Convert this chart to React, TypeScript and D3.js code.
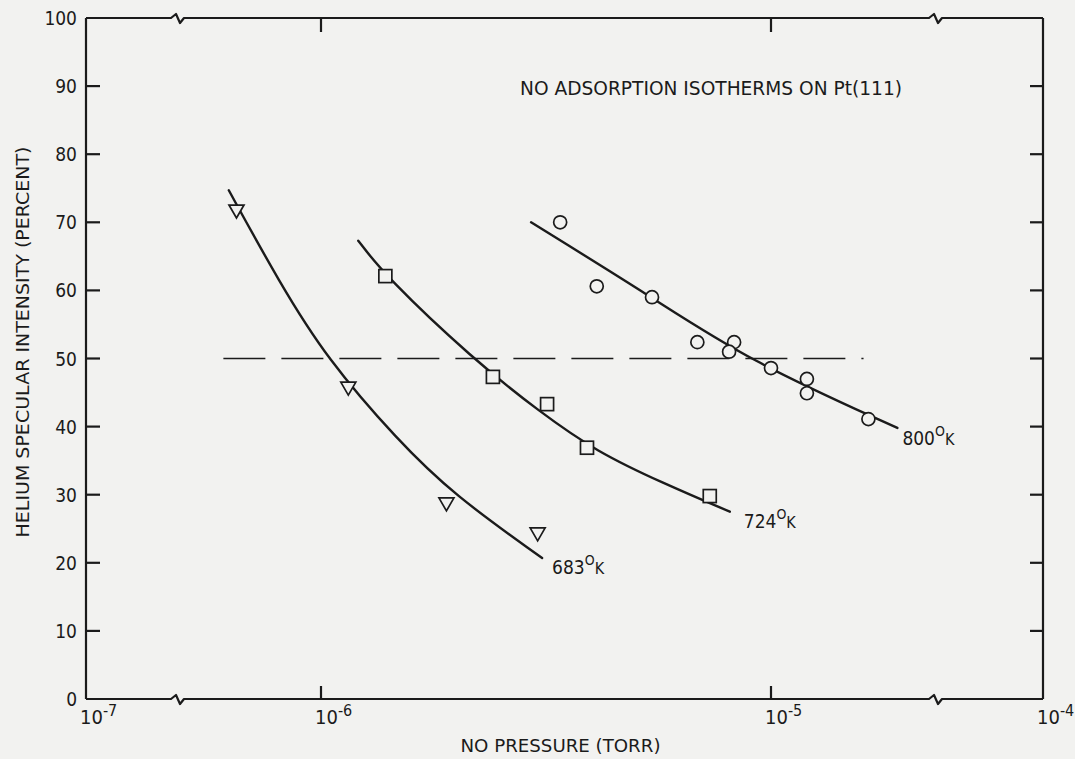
import { useEffect, useRef } from "react";
import * as d3 from "d3";

const pressure683 = [6.5e-7, 1.15e-6, 1.9e-6, 3.03e-6];
const intensity683 = [71.8, 45.8, 28.8, 24.4];

const pressure724 = [1.39e-6, 2.41e-6, 3.18e-6, 3.9e-6, 7.31e-6];
const intensity724 = [62.1, 47.3, 43.3, 36.9, 29.8];

const pressure800 = [3.4e-6, 4.1e-6, 5.44e-6, 6.86e-6, 8.28e-6, 8.07e-6, 1.0e-5, 1.2e-5, 1.2e-5, 1.64e-5];
const intensity800 = [70.0, 60.6, 59.0, 52.4, 52.4, 51.0, 48.6, 47.0, 44.9, 41.1];

// hand drawn fit curves
const fitP683 = [6.25e-7, 8.1e-7, 1.03e-6, 1.48e-6, 1.97e-6, 3.1e-6];
const fitI683 = [74.7, 61.1, 50, 38.0, 30.0, 20.7];

const fitP724 = [1.21e-6, 1.39e-6, 2.17e-6, 3.07e-6, 4.1e-6, 5.75e-6, 8.1e-6];
const fitI724 = [67.3, 62.1, 50, 42.1, 36.3, 31.7, 27.5];

const fitP800 = [2.93e-6, 5.44e-6, 8.85e-6, 1.9e-5];
const fitI800 = [70.0, 59.0, 49.8, 39.8];

const curveLabels = ["683", "724", "800"];

// axis
const yTicks = [0, 10, 20, 30, 40, 50, 60, 70, 80, 90, 100];
const xLabelExps = [-7, -6, -5, -4];
const xTickMarks = [1e-6, 1e-5];
const axisBreaks = [4.8e-7, 2.3e-5];

// 50% guide
const halfRange = [6.08e-7, 1.6e-5];
const halfValue = 50;

export default function App() {
  const ref = useRef<SVGSVGElement>(null);

  useEffect(() => {
    const W = 1075;
    const H = 759;
    const left = 86, right = 1043, top = 18, bottom = 699;
    const ink = "#1b1b1b";
    const bg = "#f2f2f0";
    const font = "'Liberation Sans Narrow', 'DejaVu Sans Condensed', 'Liberation Sans', sans-serif";

    const svg = d3.select(ref.current);
    svg.selectAll("*").remove();
    svg.attr("width", W).attr("height", H);

    svg.append("rect").attr("width", W).attr("height", H).attr("fill", bg);

    // broken log axis: the two outer decades are squeezed
    const x = d3.scaleLog()
      .domain([1e-7, axisBreaks[0], 1e-6, 1e-5, axisBreaks[1], 1e-4])
      .range([left, 177, 321, 771, 935, right]);

    const y = d3.scaleLinear().domain([0, 100]).range([bottom, top]);

    // frame with break marks
    const edge = (yy: number) => {
      const pts: [number, number][] = [[left, yy]];
      axisBreaks.forEach(b => {
        const xb = x(b);
        pts.push([xb - 6, yy], [xb - 1, yy - 4], [xb + 3, yy + 5], [xb + 7, yy]);
      });
      pts.push([right, yy]);
      return pts;
    };
    const poly = d3.line();
    const frame = svg.append("g")
      .attr("fill", "none")
      .attr("stroke", ink)
      .attr("stroke-width", 2.2)
      .attr("stroke-linejoin", "round");
    frame.append("path").attr("d", poly(edge(top)));
    frame.append("path").attr("d", poly(edge(bottom)));
    frame.append("path").attr("d", poly([[left, top], [left, bottom]]));
    frame.append("path").attr("d", poly([[right, top], [right, bottom]]));

    // y ticks, both sides, pointing inward
    yTicks.slice(1, -1).forEach(v => {
      frame.append("line").attr("x1", left).attr("x2", left + 14).attr("y1", y(v)).attr("y2", y(v));
      frame.append("line").attr("x1", right - 13).attr("x2", right).attr("y1", y(v)).attr("y2", y(v));
    });
    xTickMarks.forEach(v => {
      frame.append("line").attr("x1", x(v)).attr("x2", x(v)).attr("y1", bottom).attr("y2", bottom - 13);
      frame.append("line").attr("x1", x(v)).attr("x2", x(v)).attr("y1", top).attr("y2", top + 14);
    });

    // y tick labels
    svg.append("g")
      .selectAll("text")
      .data(yTicks)
      .join("text")
      .attr("x", left - 9)
      .attr("y", d => y(d) + 7)
      .attr("text-anchor", "end")
      .attr("font-family", font)
      .attr("font-size", 19)
      .attr("fill", ink)
      .text(d => d);

    // x tick labels 10^n
    const xl = svg.append("g").attr("font-family", font).attr("fill", ink);
    xLabelExps.forEach(e => {
      const t = xl.append("text")
        .attr("x", x(Math.pow(10, e)) - 6)
        .attr("y", 724)
        .attr("font-size", 20);
      t.append("tspan").text("10");
      t.append("tspan").attr("dy", -8).attr("font-size", 16).text(`-${-e}`);
    });

    // axis titles
    svg.append("text")
      .attr("x", (left + right) / 2 - 4)
      .attr("y", 752)
      .attr("text-anchor", "middle")
      .attr("font-family", font)
      .attr("font-size", 18)
      .attr("fill", ink)
      .attr("textLength", 200)
      .attr("lengthAdjust", "spacingAndGlyphs")
      .text("NO PRESSURE (TORR)");

    svg.append("text")
      .attr("transform", "translate(29,342) rotate(-90)")
      .attr("text-anchor", "middle")
      .attr("font-family", font)
      .attr("font-size", 17)
      .attr("fill", ink)
      .attr("textLength", 391)
      .attr("lengthAdjust", "spacingAndGlyphs")
      .text("HELIUM SPECULAR INTENSITY (PERCENT)");

    svg.append("text")
      .attr("x", 520)
      .attr("y", 95)
      .attr("font-family", font)
      .attr("font-size", 19)
      .attr("fill", ink)
      .attr("textLength", 382)
      .attr("lengthAdjust", "spacingAndGlyphs")
      .text("NO ADSORPTION ISOTHERMS ON Pt(111)");

    // 50% dashed guide
    svg.append("line")
      .attr("x1", x(halfRange[0]))
      .attr("x2", x(halfRange[1]))
      .attr("y1", y(halfValue))
      .attr("y2", y(halfValue))
      .attr("stroke", ink)
      .attr("stroke-width", 1.6)
      .attr("stroke-dasharray", "42 16");

    // fit curves (B-spline keeps the hand drawn curves smooth)
    const fits = [
      [fitP683, fitI683],
      [fitP724, fitI724],
      [fitP800, fitI800],
    ];
    const labelOffsets = [[10, 16], [14, 16], [5, 17]];
    const smooth = d3.line().curve(d3.curveBasis);
    fits.forEach(([ps, is], k) => {
      const pts = ps.map((p, i) => [x(p), y(is[i])] as [number, number]);
      svg.append("path")
        .attr("d", smooth(pts))
        .attr("fill", "none")
        .attr("stroke", ink)
        .attr("stroke-width", 2.4)
        .attr("stroke-linecap", "round");

      const last = pts[pts.length - 1];
      const t = svg.append("text")
        .attr("x", last[0] + labelOffsets[k][0])
        .attr("y", last[1] + labelOffsets[k][1])
        .attr("font-family", font)
        .attr("font-size", 19)
        .attr("fill", ink);
      t.append("tspan").text(curveLabels[k]);
      t.append("tspan").attr("dy", -9).attr("font-size", 14).text("O");
      t.append("tspan").attr("dy", 9).attr("font-size", 16).text("K");
    });

    // markers
    const mk = svg.append("g")
      .attr("fill", bg)
      .attr("stroke", ink)
      .attr("stroke-width", 1.7);

    pressure683.forEach((p, i) => {
      mk.append("path")
        .attr("transform", `translate(${x(p)},${y(intensity683[i])})`)
        .attr("d", "M-7.5,-5L7.5,-5L0,8Z");
    });
    pressure724.forEach((p, i) => {
      mk.append("rect")
        .attr("x", x(p) - 6.5)
        .attr("y", y(intensity724[i]) - 6.5)
        .attr("width", 13)
        .attr("height", 13);
    });
    pressure800.forEach((p, i) => {
      mk.append("circle")
        .attr("cx", x(p))
        .attr("cy", y(intensity800[i]))
        .attr("r", 6.5);
    });
  }, []);

  return <svg ref={ref} style={{ display: "block", position: "absolute", left: 0, top: 0 }}></svg>;
}
